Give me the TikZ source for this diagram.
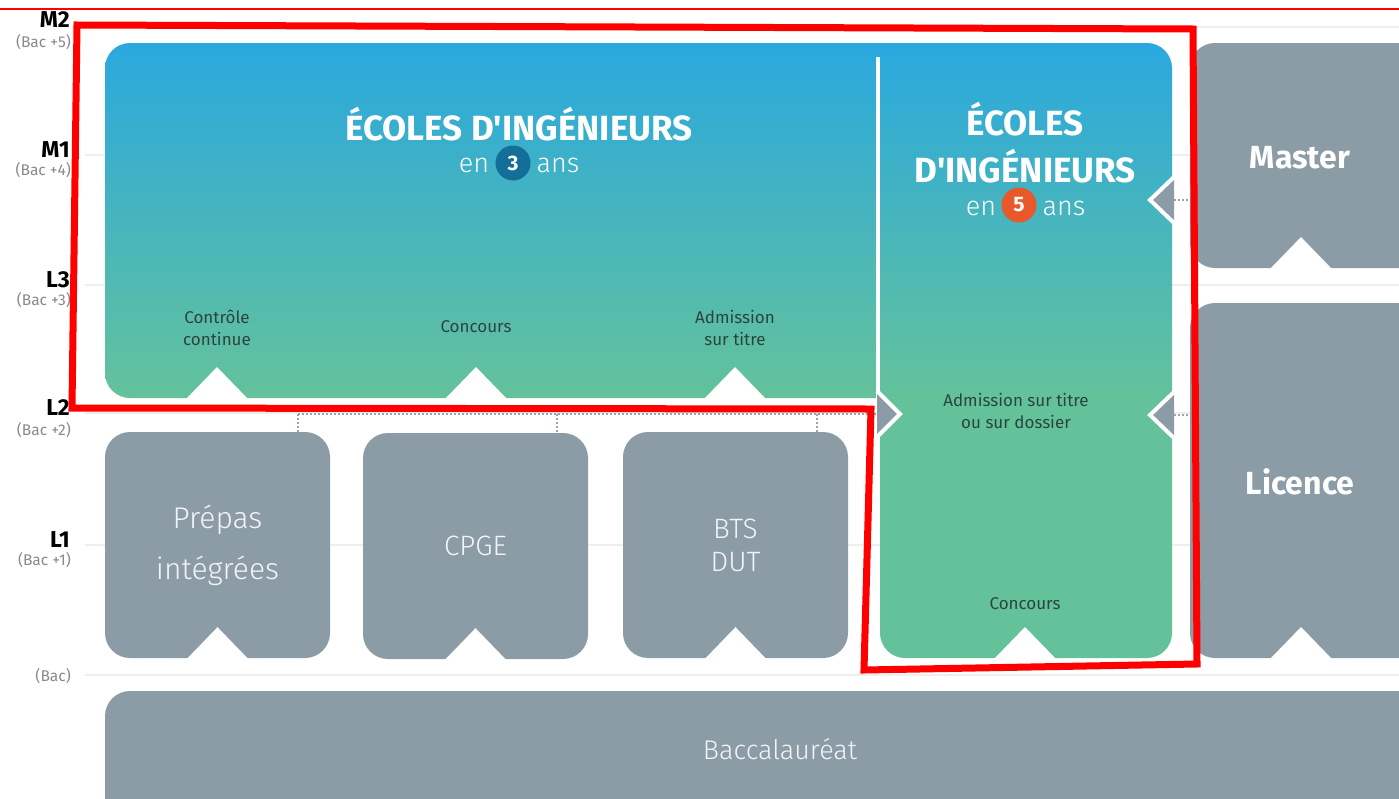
\documentclass[tikz,border=0pt]{standalone}
\usepackage{fontspec}
\setmainfont{Fira Sans}[Ligatures=TeXOff]
\newfontfamily\lightfont{Fira Sans Light}[Ligatures=TeXOff]
\usetikzlibrary{calc}
\definecolor{boxgray}{HTML}{8C9CA6}
\definecolor{gblue}{HTML}{2AA8DF}
\definecolor{ggreen}{HTML}{64C29B}
\definecolor{badgeblue}{HTML}{136F98}
\definecolor{badgeorange}{HTML}{E8582B}
\definecolor{darktxt}{HTML}{2C4440}
\definecolor{gridc}{HTML}{EEEEEE}
\definecolor{subgray}{HTML}{8A8A8A}
\definecolor{dotc}{HTML}{9AA6AE}
\definecolor{softwhite}{HTML}{F2F5F7}
\newcommand\notchat[1]{\fill[white] ($(#1)+(-31,1)$) -- ($(#1)+(0,-31)$) -- ($(#1)+(31,1)$) -- cycle;}
\begin{document}
\begin{tikzpicture}[x=1pt,y=-1pt,
  lvl/.style={anchor=base east, font=\bfseries\fontsize{23}{23}\selectfont, text=black, inner sep=0},
  lvlsub/.style={anchor=base east, font=\fontsize{15.5}{16}\selectfont, text=subgray, inner sep=0},
  gridline/.style={draw=gridc, line width=1.5pt},
  graybox/.style={rectangle, fill=boxgray, rounded corners=25pt, inner sep=0, text=softwhite, align=center},
  boxtxt/.style={text=softwhite, align=center, inner sep=0},
  smalltxt/.style={text=darktxt, align=center, font=\fontsize{17}{22}\selectfont, inner sep=0},
  titletxt/.style={text=white, font=\bfseries\fontsize{35}{35}\selectfont, anchor=base, inner sep=0},
  entxt/.style={text=white, font=\lightfont\fontsize{27}{27}\selectfont, anchor=base, inner sep=0},
  badge/.style={circle, inner sep=0, minimum size=35pt, text=white, font=\bfseries\fontsize{21}{21}\selectfont},
  dotline/.style={draw=dotc, line width=1.8pt, dash pattern=on 1.8pt off 2.2pt},
  chevron/.style={draw=white, line width=4pt, fill=boxgray, line join=miter},
  bigbold/.style={text=white, font=\bfseries\fontsize{32}{32}\selectfont, inner sep=0},
  redmark/.style={draw=red, line width=7pt, line join=miter}
]
\useasboundingbox (0,0) rectangle (1399,798);
\fill[white] (0,0) rectangle (1399,798);

% level grid lines
\foreach \yy in {27,155,285,413,545,675} \draw[gridline] (85,\yy) -- (1399,\yy);

% level labels
\node[lvl] (m2) at (70,27) {M2};
\node[lvlsub] (m2s) at (71,47) {(Bac +5)};
\node[lvl] (m1) at (70,157) {M1};
\node[lvlsub] (m1s) at (71,175) {(Bac +4)};
\node[lvl] (l3) at (70,287) {L3};
\node[lvlsub] (l3s) at (71,305) {(Bac +3)};
\node[lvl] (l2) at (70,415) {L2};
\node[lvlsub] (l2s) at (71,435) {(Bac +2)};
\node[lvl] (l1) at (70,547) {L1};
\node[lvlsub] (l1s) at (71,565) {(Bac +1)};
\node[lvlsub] (bac) at (71,681) {(Bac)};

% gradient block: schools in 3 years (left) and 5 years (right column)
\begin{scope}
  \clip[rounded corners=25pt] (880,43) -- (1172,43) -- (1172,658) -- (880,658) -- (880,43);
  \shade[top color=gblue, bottom color=ggreen] (870,43) rectangle (1180,400);
  \fill[ggreen] (870,399) rectangle (1180,670);
\end{scope}
\shade[top color=gblue, bottom color=ggreen, rounded corners=25pt] (881,43) -- (105,43) -- (105,398) -- (881,398);
\draw[white, line width=4pt] (878,57) -- (878,400);
\coordinate (e3a) at (217,398);
\coordinate (e3b) at (476,398);
\coordinate (e3c) at (735,398);
\coordinate (e5) at (1025,658);
\notchat{e3a}\notchat{e3b}\notchat{e3c}\notchat{e5}

% titles
\node[titletxt] (t3) at (519,140) {ÉCOLES D'INGÉNIEURS};
\node[entxt] (en3) at (474,172) {en};
\node[badge, fill=badgeblue] (b3) at (513,163) {3};
\node[entxt] (ans3) at (558,172) {ans};

\node[titletxt] (t5a) at (1025,135) {ÉCOLES};
\node[titletxt] (t5b) at (1025,182) {D'INGÉNIEURS};
\node[entxt] (en5) at (981,215) {en};
\node[badge, fill=badgeorange] (b5) at (1019,205) {5};
\node[entxt] (ans5) at (1064,215) {ans};

% admission labels
\node[smalltxt] (cc) at (217,328) {Contrôle\\continue};
\node[smalltxt] (conc3) at (476,327) {Concours};
\node[smalltxt] (adm3) at (735,328) {Admission\\sur titre};
\node[smalltxt] (adm5) at (1016,411) {Admission sur titre\\ou sur dossier};
\node[smalltxt] (conc5) at (1025,604) {Concours};

% gray boxes
\node[graybox, minimum width=225pt, minimum height=226pt, font=\lightfont\fontsize{30}{51}\selectfont] (prepas) at (217.5,545) {Prépas\\intégrées};
\node[graybox, minimum width=225pt, minimum height=226pt, font=\lightfont\fontsize{28}{34}\selectfont] (cpge) at (475.5,546) {CPGE};
\node[graybox, minimum width=225pt, minimum height=226pt, font=\lightfont\fontsize{28}{33}\selectfont] (bts) at (735.5,545) {BTS\\DUT};
\node[graybox, minimum width=240pt, minimum height=225pt] (master) at (1310,155.5) {};
\node[graybox, minimum width=240pt, minimum height=355pt] (licence) at (1310,480.5) {};
\node[graybox, minimum width=1360pt, minimum height=150pt] (baccal) at (785,766) {};
\node[boxtxt, font=\lightfont\fontsize{27}{27}\selectfont] (bactxt) at (780,749) {Baccalauréat};
\node[bigbold] (mastertxt) at (1300,158) {Master};
\node[bigbold] (licencetxt) at (1300,482) {Licence};
\coordinate (nm) at (1301,268);
\coordinate (nl) at (1301,658);
\notchat{prepas.south}\notchat{cpge.south}\notchat{bts.south}\notchat{nm}\notchat{nl}

% dotted connectors from L2 boxes
\coordinate (d1) at (298,414);
\coordinate (d2) at (557,414);
\coordinate (d3) at (817,414);
\coordinate (ar) at (879,414);
\draw[dotline] (d1) -- (ar);
\draw[dotline] (d1) -- (d1 |- prepas.north);
\draw[dotline] (d2) -- (d2 |- cpge.north);
\draw[dotline] (d3) -- (d3 |- bts.north);

% chevrons
\filldraw[chevron] (877,391) -- (900,414) -- (877,437);
\coordinate (cm) at (1174,200);
\coordinate (cl) at (1174,415);
\filldraw[chevron] (1174,177) -- (1150,200) -- (1174,223);
\filldraw[chevron] (1174,392) -- (1150,415) -- (1174,438);
\draw[dotline] (cm) -- (cm -| master.west);
\draw[dotline] (cl) -- (cl -| licence.west);

% red annotation
\draw[red, line width=2pt] (0,9) -- (1399,9);
\draw[redmark] (77,25) -- (1193,29) -- (1197,664) -- (864,670) -- (871,409) -- (72,408) -- cycle;
\end{tikzpicture}
\end{document}
